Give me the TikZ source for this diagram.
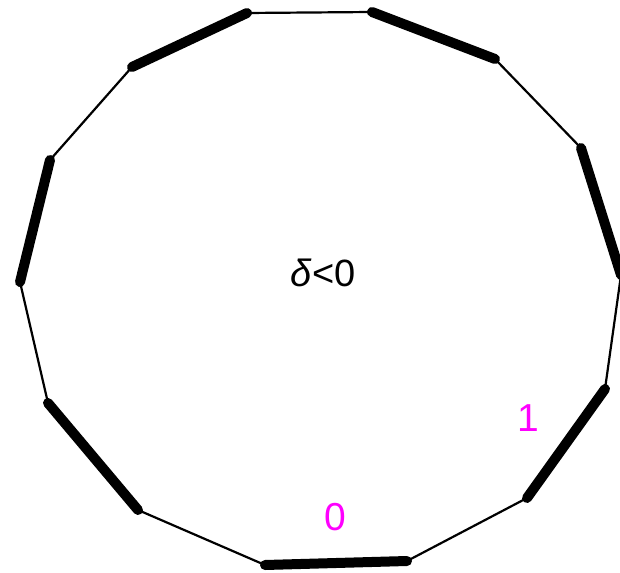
\documentclass[tikz,border=0pt]{standalone}
\usepackage{fontspec}
\setmainfont{Liberation Sans}
\definecolor{lblmag}{RGB}{255,0,255}
\begin{document}
\begin{tikzpicture}[x=1pt,y=-1pt,
  boldedge/.style={line width=10pt,line cap=round},
  thinedge/.style={line width=2.2pt},
  lbl/.style={text=lblmag,font=\fontsize{39}{39}\selectfont,inner sep=0pt}]
\useasboundingbox (0,0) rectangle (620,572);
\coordinate (p1) at (132,67);
\coordinate (p2) at (247,13);
\coordinate (p3) at (372,12);
\coordinate (p4) at (495,59);
\coordinate (p5) at (581,148);
\coordinate (p6) at (621,275);
\coordinate (p7) at (605,389);
\coordinate (p8) at (527,498);
\coordinate (p9) at (407,561);
\coordinate (p10) at (265,565);
\coordinate (p11) at (138,510);
\coordinate (p12) at (48,403);
\coordinate (p13) at (20,282);
\coordinate (p14) at (50,160);
\draw[thinedge] (p2)--(p3) (p4)--(p5) (p6)--(p7) (p8)--(p9) (p10)--(p11) (p12)--(p13) (p14)--(p1);
\draw[boldedge] (p1)--(p2);
\draw[boldedge] (p3)--(p4);
\draw[boldedge] (p5)--(p6);
\draw[boldedge] (p7)--(p8);
\draw[boldedge] (p9)--(p10);
\draw[boldedge] (p11)--(p12);
\draw[boldedge] (p13)--(p14);
\node[font=\fontsize{38}{38}\selectfont,inner sep=0pt] (d) at (323,273) {\textit{δ}<0};
\node[lbl] (zero) at (335,517) {0};
\node[lbl] (one) at (528,418) {1};
\end{tikzpicture}
\end{document}
